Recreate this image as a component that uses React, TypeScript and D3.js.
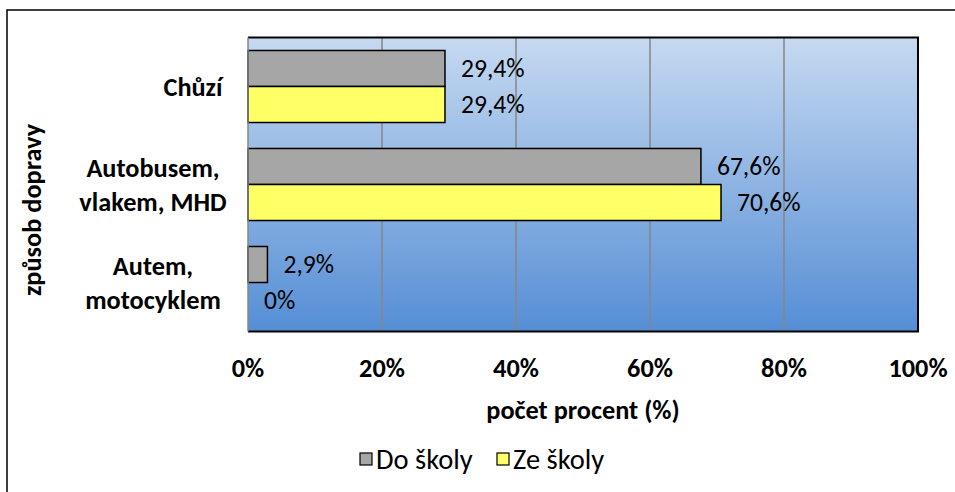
import React from 'react';
import * as d3 from 'd3';

// Způsob dopravy do školy a ze školy (v procentech)
const categories = ['Chůzí', 'Autobusem, vlakem, MHD', 'Autem, motocyklem'];
const categoryLines = [['Chůzí'], ['Autobusem,', 'vlakem, MHD'], ['Autem,', 'motocyklem']];
const seriesNames = ['Do školy', 'Ze školy'];
const doSkoly = [29.4, 67.6, 2.9];
const zeSkoly = [29.4, 70.6, 0];
const xTicks = [0, 20, 40, 60, 80, 100];
const xTitle = 'počet procent (%)';
const yTitle = 'způsob dopravy';

const W = 955;
const H = 492;
const FONT = 'Carlito, Calibri, Lato, sans-serif';
const FS_BOLD = 26.3;
const FS_LABEL = 25.6;
const FS_LEGEND = 28.5;
const seriesColors = ['#a6a6a6', '#ffff66'];

const plot = { left: 248, right: 918, top: 37.5, bottom: 331.5 };

const fmt = (v: number) => String(v).replace('.', ',') + '%';

export default function App() {
  const x = d3.scaleLinear().domain([0, 100]).range([plot.left, plot.right]);
  const y = d3
    .scaleBand<string>()
    .domain(categories)
    .range([plot.top, plot.bottom])
    .paddingInner(0.265)
    .paddingOuter(0.1325);
  const ySub = d3.scaleBand<string>().domain(seriesNames).range([0, y.bandwidth()]);
  const series = [doSkoly, zeSkoly];

  return (
    <svg
      width={W}
      height={H}
      style={{ position: 'absolute', left: 0, top: 0, display: 'block' }}
      fontFamily={FONT}
    >
      <defs>
        <linearGradient id="plotFill" x1="0" y1="0" x2="0" y2="1">
          <stop offset="0%" stopColor="#c6d9f1" />
          <stop offset="100%" stopColor="#558ed5" />
        </linearGradient>
      </defs>
      <rect x={0} y={0} width={W} height={H} fill="#ffffff" />
      {/* outer chart frame */}
      <rect x={7} y={10} width={W + 20} height={H + 20} fill="none" stroke="#000" strokeWidth={1.5} />

      {/* plot area */}
      <rect
        x={plot.left}
        y={plot.top}
        width={plot.right - plot.left}
        height={plot.bottom - plot.top}
        fill="url(#plotFill)"
      />
      {xTicks.slice(1, -1).map((t) => (
        <line key={t} x1={x(t)} x2={x(t)} y1={plot.top} y2={plot.bottom} stroke="#868686" strokeWidth={1.5} />
      ))}

      {/* bars */}
      {categories.map((c, ci) =>
        seriesNames.map((s, si) => {
          const v = series[si][ci];
          const by = (y(c) as number) + (ySub(s) as number);
          const bh = ySub.bandwidth();
          return (
            <g key={c + s}>
              {v > 0 && (
                <rect
                  x={x(0)}
                  y={by}
                  width={x(v) - x(0)}
                  height={bh}
                  fill={seriesColors[si]}
                  stroke="#000"
                  strokeWidth={1.5}
                />
              )}
              <text x={x(v) + 16} y={by + bh / 2} dy="0.35em" fontSize={FS_LABEL} fill="#000">
                {fmt(v)}
              </text>
            </g>
          );
        })
      )}

      {/* plot frame */}
      <path
        d={`M${plot.left},${plot.top}H${plot.right}V${plot.bottom}H${plot.left}`}
        fill="none"
        stroke="#000"
        strokeWidth={2}
      />
      <line x1={plot.left} x2={plot.left} y1={plot.top} y2={plot.bottom} stroke="#868686" strokeWidth={1.5} />

      {/* category labels */}
      {categories.map((c, ci) => {
        const lines = categoryLines[ci];
        const cy = (y(c) as number) + y.bandwidth() / 2;
        const lh = 34;
        return (
          <text key={c} fontSize={FS_BOLD} fontWeight="bold" textAnchor="middle" fill="#000">
            {lines.map((l, li) => (
              <tspan
                key={l}
                x={lines.length > 1 ? 153 : 193}
                y={cy + (li - (lines.length - 1) / 2) * lh}
                dy="0.35em"
              >
                {l}
              </tspan>
            ))}
          </text>
        );
      })}

      {/* x tick labels */}
      {xTicks.map((t) => (
        <text key={t} x={x(t)} y={368} dy="0.35em" textAnchor="middle" fontSize={FS_BOLD} fontWeight="bold">
          {t + '%'}
        </text>
      ))}

      {/* axis titles */}
      <text x={(plot.left + plot.right) / 2} y={410} dy="0.35em" textAnchor="middle" fontSize={FS_BOLD} fontWeight="bold">
        {xTitle}
      </text>
      <text
        transform={`translate(32,${210}) rotate(-90)`}
        dy="0.35em"
        textAnchor="middle"
        fontSize={FS_BOLD}
        fontWeight="bold"
      >
        {yTitle}
      </text>

      {/* legend */}
      {seriesNames.map((s, si) => {
        const lx = [360, 497][si];
        return (
          <g key={s}>
            <rect x={lx} y={453} width={12} height={12} fill={seriesColors[si]} stroke="#000" strokeWidth={1.2} />
            <text x={lx + 16} y={459} dy="0.35em" fontSize={FS_LEGEND}>
              {s}
            </text>
          </g>
        );
      })}
    </svg>
  );
}
